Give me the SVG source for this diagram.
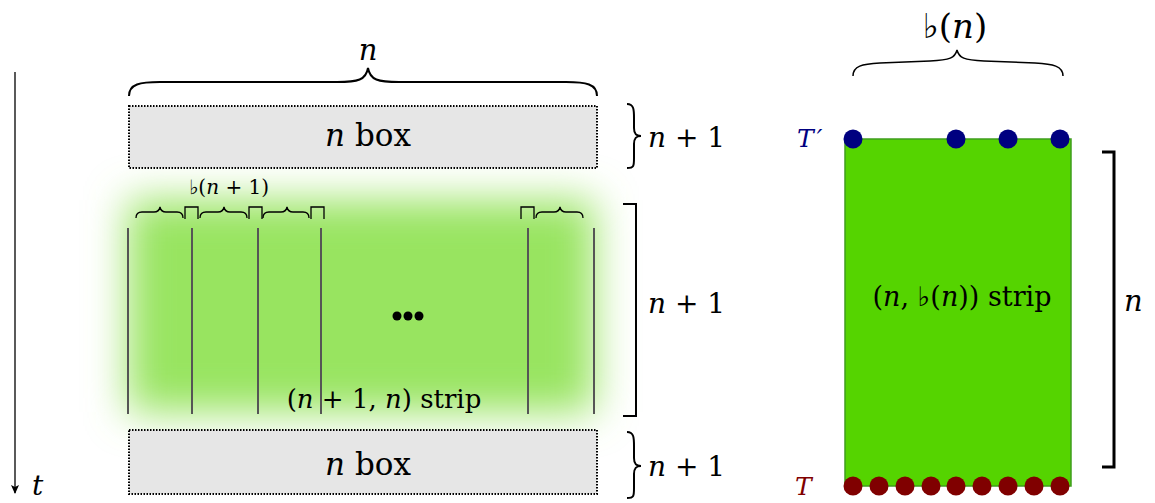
<svg xmlns="http://www.w3.org/2000/svg" width="1155" height="503" viewBox="0 0 1155 503">
<defs>
<filter id="glow" x="-40%" y="-50%" width="180%" height="200%"><feGaussianBlur stdDeviation="20"/></filter>
<marker id="arr" markerWidth="10" markerHeight="10" refX="8" refY="5" orient="auto" markerUnits="userSpaceOnUse"><path d="M0,1 L9,5 L0,9 L2,5 Z" fill="#000"/></marker>
</defs>
<style>
.tx{font-family:'DejaVu Serif',serif}
.it{font-style:italic}
.box{fill:#e6e6e6;stroke:#000;stroke-width:2;stroke-dasharray:1.5 1.5}
.brace{fill:none;stroke:#000}
.vl{stroke:#555;stroke-width:2}
.blue{fill:#000080}
.red{fill:#800000}
</style>
<rect x="0" y="0" width="1155" height="503" fill="#fff"/>

<g id="time-axis">
<line x1="15" y1="72" x2="15" y2="493" stroke="#000" stroke-width="1.3" marker-end="url(#arr)"/>
<text x="32" y="495" font-size="28" class="tx it">t</text>
</g>

<g id="strip-left">
<rect x="128" y="200" width="466" height="212" fill="#98e460" filter="url(#glow)"/>
<g>
<line class="vl" x1="128" y1="228" x2="128" y2="414"/>
<line class="vl" x1="192" y1="228" x2="192" y2="414"/>
<line class="vl" x1="258" y1="228" x2="258" y2="414"/>
<line class="vl" x1="321" y1="228" x2="321" y2="414"/>
<line class="vl" x1="528" y1="228" x2="528" y2="414"/>
<line class="vl" x1="594" y1="228" x2="594" y2="414"/>
</g>
<g fill="#000">
<circle cx="397" cy="316" r="4.5"/><circle cx="408" cy="316" r="4.5"/><circle cx="419" cy="316" r="4.5"/>
</g>
<g class="brace" style="stroke-width:1.3">
<path d="M136,218 Q136,212 142,212 L154,212 Q159,212 160,207 Q161,212 166,212 L177,212 Q183,212 183,218"/>
<path d="M200,218 Q200,212 206,212 L218,212 Q223,212 224,207 Q225,212 230,212 L241,212 Q247,212 247,218"/>
<path d="M263,218 Q263,212 269,212 L281,212 Q286,212 287,207 Q288,212 293,212 L303,212 Q309,212 309,218"/>
<path d="M536,218 Q536,212 542,212 L554,212 Q559,212 560,207 Q561,212 566,212 L577,212 Q583,212 583,218"/>
<path d="M185,219 L185,207 L198,207 L198,219"/>
<path d="M249,219 L249,207 L262,207 L262,219"/>
<path d="M311,219 L311,207 L324,207 L324,219"/>
<path d="M521,219 L521,207 L534,207 L534,219"/>
</g>
<text x="229" y="194" font-size="20" text-anchor="middle" class="tx">♭(<tspan class="it">n</tspan> + 1)</text>
<text x="384" y="408" font-size="26" text-anchor="middle" class="tx">(<tspan class="it">n</tspan> + 1, <tspan class="it">n</tspan>) strip</text>
<path class="brace" style="stroke-width:2" d="M623,204 L636,204 L636,416 L623,416"/>
<text x="648" y="313" font-size="28" class="tx"><tspan class="it">n</tspan> + 1</text>
</g>

<g id="top-box">
<rect class="box" x="129" y="106" width="468" height="62"/>
<text x="368" y="146" font-size="31" text-anchor="middle" class="tx"><tspan class="it">n</tspan> box</text>
<path class="brace" style="stroke-width:2" d="M129,96 C129,84 140,82 160,82 L337,82 C358,82 366,80 368,68 C370,80 378,82 399,82 L566,82 C586,82 597,84 597,96"/>
<text x="368" y="60" font-size="29" text-anchor="middle" class="tx it">n</text>
<path class="brace" style="stroke-width:2" d="M627,104 C634,104 634,110 634,118 L634,128 C634,134 636,136 641,136 C636,136 634,138 634,144 L634,158 C634,166 634,168 627,168"/>
<text x="648" y="147" font-size="28" class="tx"><tspan class="it">n</tspan> + 1</text>
</g>

<g id="bottom-box">
<rect class="box" x="129" y="430" width="468" height="64"/>
<text x="368" y="475" font-size="31" text-anchor="middle" class="tx"><tspan class="it">n</tspan> box</text>
<path class="brace" style="stroke-width:2" d="M627,432 C634,432 634,438 634,446 L634,458 C634,464 636,466 641,466 C636,466 634,468 634,474 L634,488 C634,496 634,498 627,498"/>
<text x="648" y="476" font-size="28" class="tx"><tspan class="it">n</tspan> + 1</text>
</g>

<g id="strip-right">
<rect x="845" y="139" width="226" height="347" fill="#55d400" stroke="#3f9d1e" stroke-width="1.5"/>
<text x="962" y="306" font-size="27" text-anchor="middle" class="tx">(<tspan class="it">n</tspan>, ♭(<tspan class="it">n</tspan>)) strip</text>
<path class="brace" style="stroke-width:1.5" d="M853,76 C853,66 862,64 880,63 L930,61 C950,60 955,58 957,50 C959,58 964,60 984,61 L1035,63 C1053,64 1063,66 1063,76"/>
<text x="955" y="38" font-size="34" text-anchor="middle" class="tx">♭(<tspan class="it">n</tspan>)</text>
<path class="brace" style="stroke-width:3" d="M1102,152 L1114,152 L1114,467 L1102,467"/>
<text x="1124" y="311" font-size="29" class="tx it">n</text>
</g>

<g id="T-prime">
<g class="blue">
<circle cx="853" cy="139" r="9.5"/><circle cx="956" cy="139" r="9.5"/><circle cx="1008" cy="139" r="9.5"/><circle cx="1060" cy="139" r="9.5"/>
</g>
<text x="797" y="147" font-size="25" class="tx it" fill="#000080">T<tspan dx="3">′</tspan></text>
</g>

<g id="T">
<g class="red">
<circle cx="853" cy="486" r="9.5"/><circle cx="879" cy="486" r="9.5"/><circle cx="905" cy="486" r="9.5"/><circle cx="931" cy="486" r="9.5"/><circle cx="956" cy="486" r="9.5"/><circle cx="982" cy="486" r="9.5"/><circle cx="1008" cy="486" r="9.5"/><circle cx="1034" cy="486" r="9.5"/><circle cx="1060" cy="486" r="9.5"/>
</g>
<text x="795" y="495" font-size="25" class="tx it" fill="#800000">T</text>
</g>
</svg>
